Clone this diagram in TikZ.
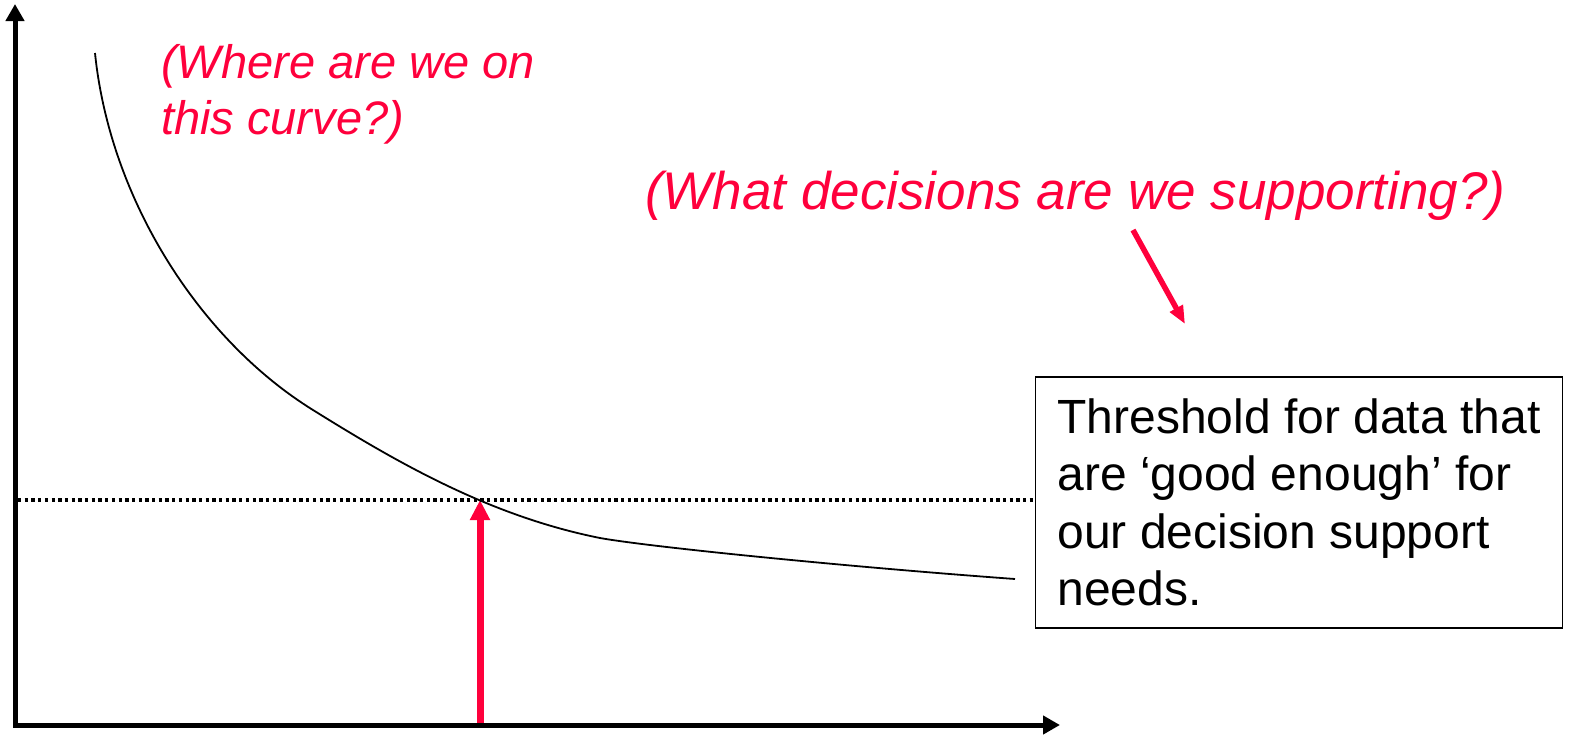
\documentclass[tikz,border=0pt]{standalone}
\usepackage{fontspec}
\setmainfont{Liberation Sans}
\usetikzlibrary{arrows.meta}
\definecolor{alertred}{RGB}{255,0,60}
\begin{document}
\begin{tikzpicture}[x=1pt,y=-1pt,
  axisline/.style={line width=5pt, {Triangle[length=17pt,width=18pt]}-{Triangle[length=17pt,width=18pt]}},
  curveline/.style={line width=1.8pt, black},
  threshold/.style={line width=3.3pt, dash pattern=on 3.3pt off 3.4pt},
  redarrow/.style={alertred, line width=7pt, -{Triangle[length=20pt,width=19pt]}},
  pointer/.style={alertred, line width=5.5pt, -{Triangle[length=18pt,width=14pt]}},
  question/.style={text=alertred, font=\fontsize{47}{56}\selectfont\itshape, inner sep=0pt, align=left},
  notebox/.style={draw, line width=1.5pt, minimum width=527pt, minimum height=251pt, inner sep=0pt, align=left, font=\fontsize{48}{57.5}\selectfont}
]
\useasboundingbox (0,0) rectangle (1575,734);
% red vertical arrow
\coordinate (rbase) at (480,723);
\coordinate (rtip) at (480,500);
\draw[redarrow] (rbase) -- (rtip);
% axes
\coordinate (ytop) at (15,4);
\coordinate (origin) at (15,725);
\coordinate (xend) at (1060,725);
\draw[axisline] (ytop) -- (origin) -- (xend);
% box
\node[notebox] (box) at (1299,502.5) {Threshold for data that\\are ‘good enough’ for\\our decision support\\needs.};
% threshold line
\coordinate (dotstart) at (18,500);
\draw[threshold] (dotstart) -- (dotstart -| box.west);
% curve
\draw[curveline] (95,53) .. controls (110,200) and (200,340) .. (313,410)
  .. controls (398,463) and (490,516) .. (600,538)
  .. controls (650,547) and (850,567) .. (1015,579);
% labels
\node[question, anchor=north west] (where) at (161,44) {(Where are we on\\this curve?)};
\node[question, anchor=base west, font=\fontsize{53}{60}\selectfont\itshape] (what) at (645,209) {(What decisions are we supporting?)};
% pointer arrow
\coordinate (pstart) at (1133,230);
\coordinate (ptip) at (1185,324);
\draw[pointer] (pstart) -- (ptip);
\end{tikzpicture}
\end{document}
